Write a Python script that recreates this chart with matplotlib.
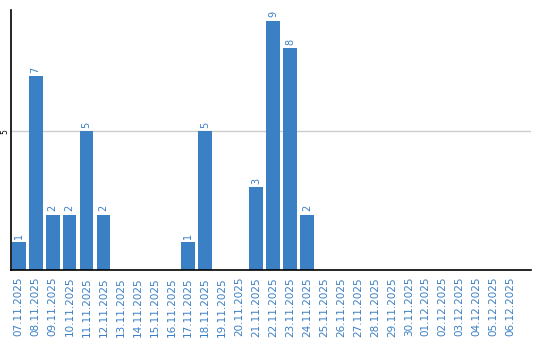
import matplotlib
matplotlib.use("Agg")
import matplotlib.pyplot as plt

dates = ["07.11.2025","08.11.2025","09.11.2025","10.11.2025","11.11.2025","12.11.2025",
         "13.11.2025","14.11.2025","15.11.2025","16.11.2025","17.11.2025","18.11.2025",
         "19.11.2025","20.11.2025","21.11.2025","22.11.2025","23.11.2025","24.11.2025",
         "25.11.2025","26.11.2025","27.11.2025","28.11.2025","29.11.2025","30.11.2025",
         "01.12.2025","02.12.2025","03.12.2025","04.12.2025","05.12.2025","06.12.2025"]
values = [1,7,2,2,5,2,0,0,0,0,1,5,0,0,3,9,8,2,0,0,0,0,0,0,0,0,0,0,0,0]

bar_color = "#3b7fc4"
text_color = "#3b7fc4"

fig = plt.figure(figsize=(5.4, 3.4), dpi=100)
ax = fig.add_axes([11/540, 70/340, 520/540, 260/340])

x = list(range(len(dates)))
ax.bar(x, values, width=0.82, color=bar_color, zorder=2)
for xi, v in zip(x, values):
    if v > 0:
        ax.text(xi, v + 0.12, str(v), rotation=90, ha="center", va="bottom",
                fontsize=7, color=text_color)

ax.set_xlim(-0.45, 30.2)
ax.set_ylim(0, 9.38)
ax.set_yticks([5])
ax.set_yticklabels(["5"], rotation=90, va="center", fontsize=5.5)
ax.yaxis.grid(True, color="#cccccc", linewidth=1, zorder=0)
ax.set_axisbelow(True)
ax.set_xticks(x)
ax.set_xticklabels(dates, rotation=90, fontsize=7.5, color=text_color)
ax.tick_params(axis="x", length=0, pad=5)
ax.tick_params(axis="y", length=0, pad=1)
for s in ["top", "right"]:
    ax.spines[s].set_visible(False)
ax.spines["left"].set_linewidth(1.2)
ax.spines["bottom"].set_linewidth(1.2)

fig.savefig("out.png", dpi=100)
